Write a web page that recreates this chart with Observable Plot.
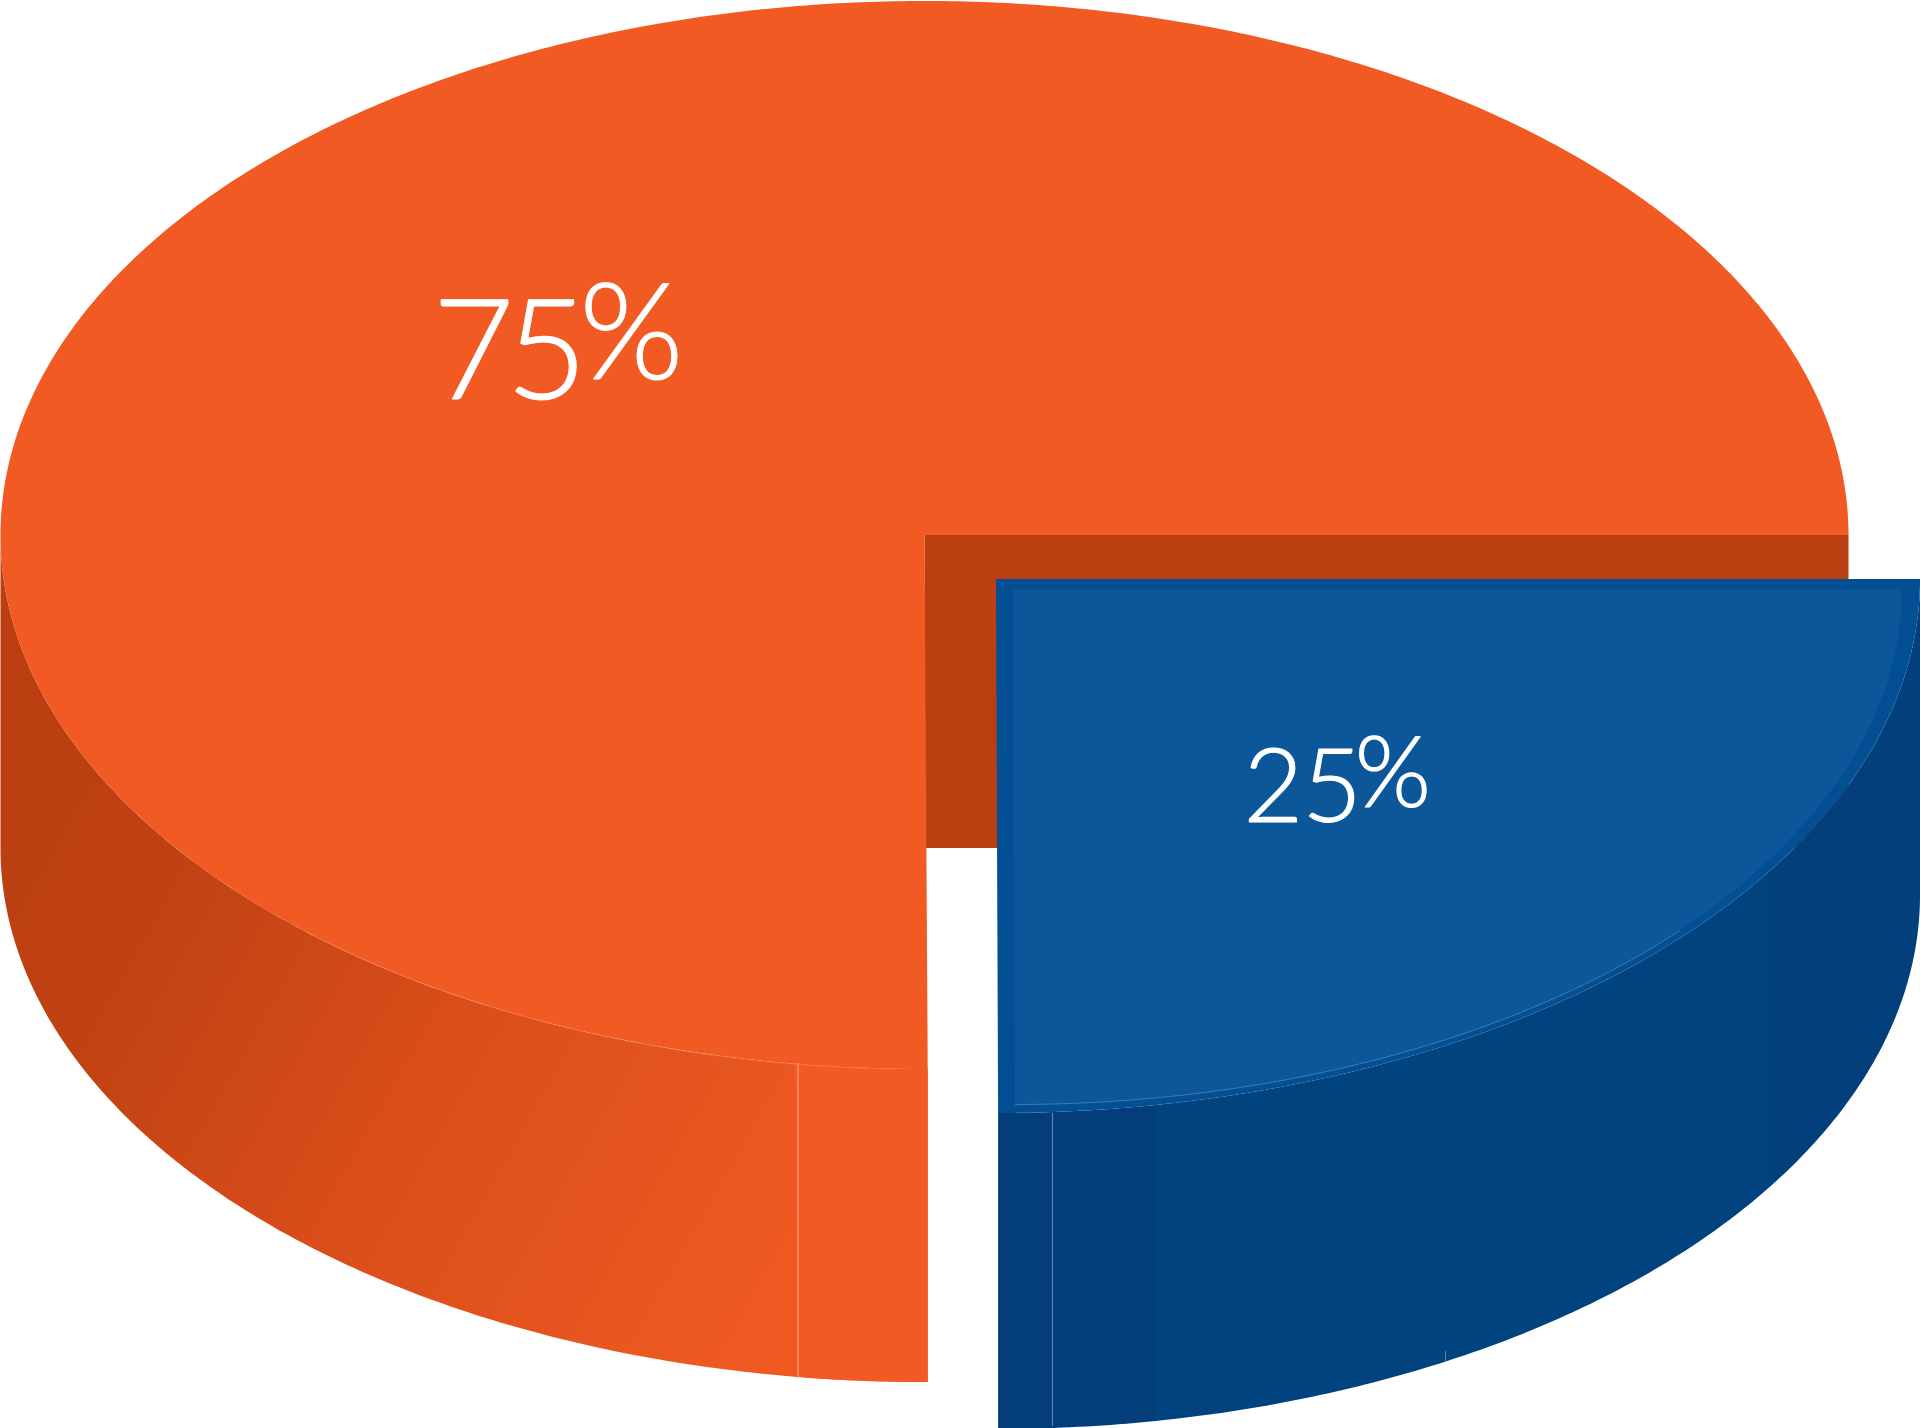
<!DOCTYPE html>
<html>
<head>
<meta charset="utf-8">
<style>html,body{margin:0;padding:0;background:#fff}svg{display:block}</style>
<script src="https://cdn.jsdelivr.net/npm/d3@7"></script>
<script src="https://cdn.jsdelivr.net/npm/@observablehq/plot@0.6"></script>
</head>
<body>
<script>
const categories = ["Orange", "Blue"];
const shares = [75, 25];
const labels = ["75%", "25%"];
const topColors = ["#F25A23", "#0B5799"];
const rimColor = "#024F93";
const notchColor = "#BC3F12";

const W = 1920, H = 1428;
const O = {cx: 924.5, cy: 535, rx: 924, ry: 534, depth: 313};
const B = {cx: 996, cy: 579, rx: 924, ry: 534, depth: 316};
const BI = {cx: 1013, cy: 589, rx: 889, ry: 515};

const arc = (e, from, to) => {
  const n = Math.ceil(Math.abs(to - from) * 2);
  return d3.range(n + 1).map(i => {
    const t = (from + (to - from) * i / n) * Math.PI / 180;
    return {x: e.cx + e.rx * Math.cos(t), y: e.cy + e.ry * Math.sin(t), cx: e.cx, cy: e.cy, d: e.depth};
  });
};
const orangeSweep = shares[0] / 100 * 360 + 0.2;
const blueSweep = shares[1] / 100 * 360 - 0.13;

const fan = (e, from, to, fill) => Plot.area(arc(e, from, to), {x1: "cx", y1: "cy", x2: "x", y2: "y", fill});
const wall = (e, from, to, fill) => Plot.area(arc(e, from, to), {x1: "x", y1: "y", x2: "x", y2: d => d.y + d.d, fill});

const defs = () => {
  const ns = "http://www.w3.org/2000/svg";
  const g = document.createElementNS(ns, "defs");
  g.innerHTML = `
  <linearGradient id="og" gradientUnits="userSpaceOnUse" x1="60" y1="760" x2="820" y2="1190">
    <stop offset="0" stop-color="#BC3F12"/><stop offset="0.18" stop-color="#C04213"/>
    <stop offset="0.55" stop-color="#DA4E1A"/><stop offset="1" stop-color="#EE5922"/>
  </linearGradient>
  <linearGradient id="bg" gradientUnits="userSpaceOnUse" x1="996" y1="0" x2="1920" y2="0">
    <stop offset="0" stop-color="#033E7B"/><stop offset="0.168" stop-color="#033E7B"/>
    <stop offset="0.175" stop-color="#00437F"/><stop offset="0.83" stop-color="#00437F"/>
    <stop offset="0.86" stop-color="#033F7B"/><stop offset="1" stop-color="#033F7B"/>
  </linearGradient>`;
  return g;
};

const labelRows = [
  {label: labels[0], x: 432, y: 398, size: 141, spacing: "-0.06em", pctShift: 0},
  {label: labels[1], x: 1243, y: 821, size: 103, spacing: "-0.01em", pctShift: -0.06}
];

const chart = Plot.plot({
  width: W, height: H, margin: 0,
  x: {domain: [0, W], range: [0, W], axis: null},
  y: {domain: [0, H], range: [0, H], axis: null},
  style: {background: "#fff"},
  marks: [
    defs,
    Plot.rect([{x1: O.cx, x2: O.cx + O.rx, y1: O.cy, y2: O.cy + O.depth}], {x1: "x1", x2: "x2", y1: "y1", y2: "y2", fill: notchColor}),
    wall(O, -180, -orangeSweep, "url(#og)"),
    wall(O, -261.9, -orangeSweep, topColors[0]),
    fan(O, 0, -orangeSweep, topColors[0]),
    Plot.line(arc(O, -228, -268), {x: "x", y: "y", stroke: "#F7A88A", strokeWidth: 0.8, strokeOpacity: 0.35}),
    Plot.ruleX([797.5], {y1: 1063, y2: 1378, stroke: "#F7A88A", strokeWidth: 1}),
    wall(B, 0, blueSweep, "url(#bg)"),
    fan(B, 0, blueSweep, rimColor),
    fan(BI, 0, blueSweep, topColors[1]),
    Plot.line(arc(BI, 41.5, blueSweep), {x: "x", y: "y", stroke: "#7F9DBD", strokeWidth: 0.8, strokeOpacity: 0.7}),
    Plot.ruleX([1052], {y1: 1113, y2: 1426, stroke: "#5C86B3", strokeWidth: 1.1}),
    Plot.ruleX([1445], {y1: 1351, y2: 1362, stroke: "#5C86B3", strokeWidth: 1}),
    ...labelRows.map(r => Plot.text([r], {
      x: "x", y: "y", text: "label", fontSize: r.size, textAnchor: "start", lineAnchor: "bottom",
      fill: "#fff", stroke: "#fff", strokeWidth: 1.2, fontFamily: "Lato", fontWeight: 300
    }))
  ]
});
chart.querySelectorAll("text").forEach((t, i) => {
  const r = labelRows[i];
  const s = t.textContent;
  t.textContent = s.slice(0, -1);
  t.style.letterSpacing = r.spacing;
  const ns = "http://www.w3.org/2000/svg";
  const p = document.createElementNS(ns, "tspan");
  p.setAttribute("dy", (-0.14 * r.size).toFixed(1));
  p.setAttribute("dx", (r.pctShift * r.size).toFixed(1));
  p.setAttribute("font-size", (0.95 * r.size).toFixed(1));
  p.textContent = "%";
  t.appendChild(p);
});
document.body.appendChild(chart);
</script>
</body>
</html>
